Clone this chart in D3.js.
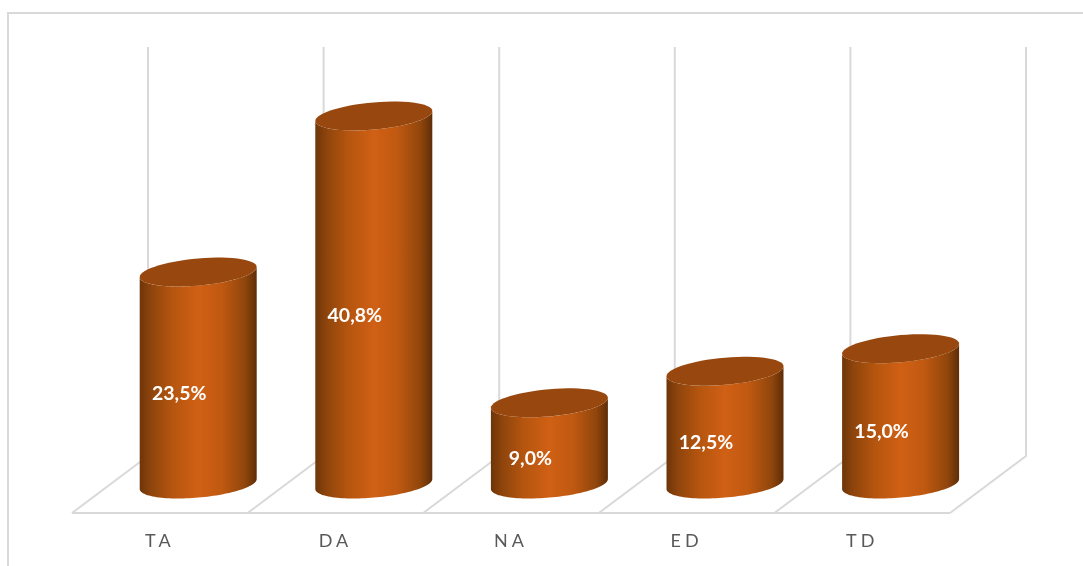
<!DOCTYPE html>
<html><head><meta charset="utf-8">
<script src="https://cdn.jsdelivr.net/npm/d3@7"></script>
<style>
html,body{margin:0;padding:0;background:#fff;overflow:hidden}
svg{display:block;filter:blur(0.4px)}
.lab{font-family:Lato,sans-serif;font-weight:700;font-size:19.5px;fill:#fff}
.tick text{font-family:Lato,sans-serif;font-size:18px;fill:#595959;letter-spacing:4px}
</style></head><body>
<script>
const categories=["TA","DA","NA","ED","TD"];
const values=[23.5,40.8,9.0,12.5,15.0];
const valueLabels=["23,5%","40,8%","9,0%","12,5%","15,0%"];

const W=1083,H=566;
const svg=d3.select("body").append("svg").attr("width",W).attr("height",H);
const x=d3.scaleBand().domain(categories).range([72,950]);
const y=d3.scaleLinear().domain([0,45]).range([484,484-45*9.02]);
const depthX=76, depthY=-57, backTop=47, floorY=513;
const barOffset=38.4, a=58.5, b=13.6, k=-5;

const defs=svg.append("defs");
const g=defs.append("linearGradient").attr("id","side").attr("x1",0).attr("x2",1).attr("y1",0).attr("y2",0);
[[0,"#6e3509"],[0.1,"#8f450c"],[0.28,"#b5550f"],[0.5,"#d06014"],[0.7,"#c05911"],[0.9,"#90460c"],[1,"#5e2d07"]]
 .forEach(s=>g.append("stop").attr("offset",s[0]).attr("stop-color",s[1]));

// outer frame
svg.append("path").attr("d",d3.line()([[8,H+4],[8,13],[W+4,13]])).attr("fill","none").attr("stroke","#d9d9d9").attr("stroke-width",2);

// 3D floor and back walls
const edges=[...categories.map(c=>x(c)),x.range()[1]];
const grid=svg.append("g").attr("fill","none").attr("stroke","#d9d9d9").attr("stroke-width",2);
edges.forEach(e=>{
  grid.append("path").attr("d",d3.line()([[e,floorY],[e+depthX,floorY+depthY],[e+depthX,backTop]]));
});
grid.append("line").attr("x1",72).attr("x2",950).attr("y1",floorY).attr("y2",floorY);

// category axis
const axis=d3.axisBottom(x).tickSize(0).tickPadding(21);
const ax=svg.append("g").attr("transform",`translate(0,${floorY})`).call(axis);
ax.select(".domain").remove();

// cylinders
function ellipsePts(cx,cy,from,to){
  return d3.range(0,61).map(i=>{
    const t=from+(to-from)*i/60;
    return [cx+a*Math.cos(t),cy+b*Math.sin(t)+k*Math.cos(t)];
  });
}
const cyl=svg.append("g").selectAll("g").data(categories).join("g");
cyl.each(function(c,i){
  const cx=x(c)+x.bandwidth()/2+barOffset;
  const yT=y(values[i]),y0=y(0);
  const sel=d3.select(this);
  const bottom=ellipsePts(cx,y0,0,Math.PI);
  const pts=[...ellipsePts(cx,yT,Math.PI,0),...bottom];
  sel.append("path").attr("d",d3.line()(pts)+"Z").attr("fill","url(#side)");
  const top=ellipsePts(cx,yT,0,2*Math.PI);
  sel.append("path").attr("d",d3.line()(top)+"Z").attr("fill","#98480e");
  sel.append("text").attr("class","lab").attr("text-anchor","middle")
    .attr("x",cx-19).attr("y",(yT+y0)/2+15).attr("dy","0.35em").text(valueLabels[i]);
});
</script>
</body></html>
